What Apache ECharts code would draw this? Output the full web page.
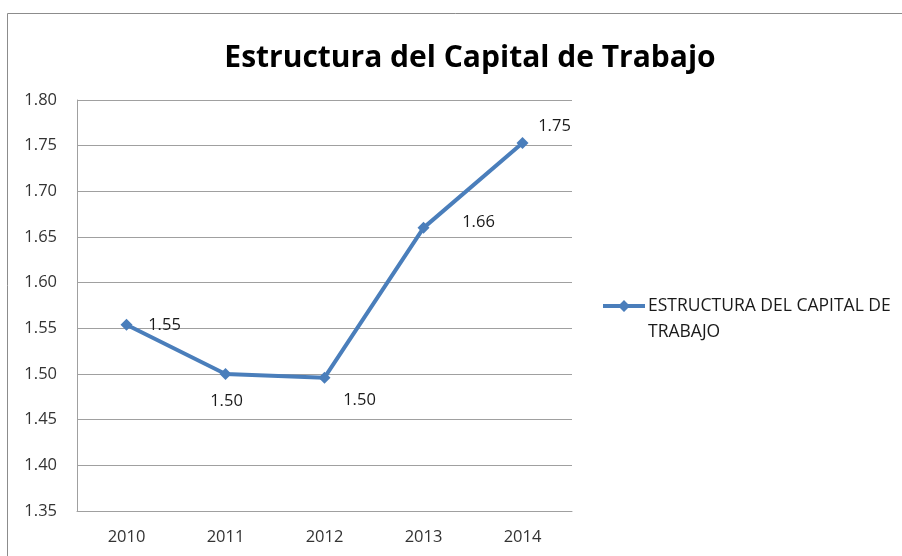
<!DOCTYPE html>
<html><head><meta charset="utf-8">
<script src="https://cdn.jsdelivr.net/npm/echarts@6/dist/echarts.min.js"></script>
<style>html,body{margin:0;padding:0;background:#fff}#c{width:902px;height:556px}</style>
</head><body><div id="c"></div>
<script>
const titleText = 'Estructura del Capital de Trabajo';
const seriesName = 'ESTRUCTURA DEL CAPITAL DE TRABAJO';
const categories = ['2010', '2011', '2012', '2013', '2014'];
const values = [1.554, 1.500, 1.496, 1.660, 1.753];
const labelPositions = [[38, 1], [1, 27], [35, 23], [55, -6], [32, -17]];

const chart = echarts.init(document.getElementById('c'));
const font = '"Open Sans", sans-serif';
const legendIcon = 'path://M0 0L0 0M0 5L42 5L42 9L0 9ZM21 1L27 7L21 13L15 7ZM0 40L0 40';
chart.setOption({
  animation: false,
  graphic: [{
    type: 'rect', shape: {x: 7.5, y: 13.5, width: 1000, height: 1000},
    style: {fill: 'none', stroke: '#8c8c8c', lineWidth: 1}, silent: true
  }],
  title: {
    text: titleText, left: 465, top: 38, textAlign: 'center',
    textStyle: {fontFamily: font, fontWeight: 'bold', fontSize: 30, color: '#000'}
  },
  legend: {
    left: 603, top: 293, padding: 0, itemWidth: 42, itemHeight: 40, itemGap: 4,
    icon: legendIcon,
    itemStyle: {color: '#4a7ebb', borderWidth: 0},
    lineStyle: {width: 0},
    formatter: n => n.replace(' TRABAJO', '\nTRABAJO'),
    textStyle: {fontFamily: font, fontSize: 17.5, color: '#1a1a1a', lineHeight: 26, padding: [0, 0, 0, -2]}
  },
  grid: {left: 77, right: 330, top: 100, bottom: 45},
  xAxis: {
    type: 'category', data: categories, boundaryGap: true,
    axisLine: {show: true, lineStyle: {color: '#a0a0a0', width: 1}},
    axisTick: {show: false},
    axisLabel: {fontFamily: font, fontSize: 16.5, color: '#333', margin: 18}
  },
  yAxis: {
    type: 'value', min: 1.35, max: 1.80, interval: 0.05,
    axisLine: {show: true, lineStyle: {color: '#a0a0a0', width: 1}},
    axisTick: {show: false},
    splitLine: {lineStyle: {color: '#a0a0a0', width: 1}},
    axisLabel: {fontFamily: font, fontSize: 16.5, color: '#333', margin: 20, formatter: v => v.toFixed(2)}
  },
  series: [{
    name: seriesName, type: 'line', data: values.map((v, i) => ({
      value: v,
      label: {offset: labelPositions[i]}
    })),
    symbol: 'diamond', symbolSize: 12,
    lineStyle: {color: '#4a7ebb', width: 4},
    itemStyle: {color: '#4a7ebb'},
    label: {show: true, position: 'inside', fontFamily: font, fontSize: 16.5, color: '#1a1a1a', formatter: p => p.value.toFixed(2)}
  }]
});
</script></body></html>
